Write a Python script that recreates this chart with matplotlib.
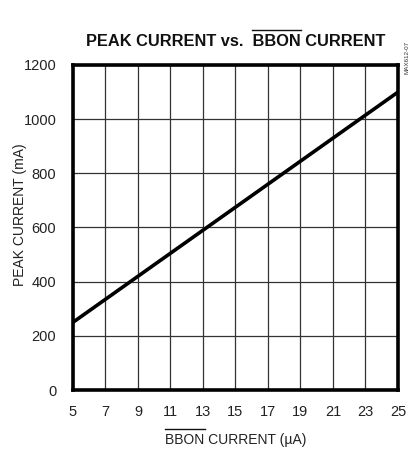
import matplotlib
matplotlib.use("Agg")
import matplotlib.pyplot as plt
from matplotlib.lines import Line2D
import numpy as np

plt.rcParams['font.family'] = ['Liberation Sans', 'DejaVu Sans']

bbon_current = [5, 25]
peak_current = [250, 1100]
x_ticks = [5, 7, 9, 11, 13, 15, 17, 19, 21, 23, 25]
y_ticks = [0, 200, 400, 600, 800, 1000, 1200]

W, H = 414, 450
fig = plt.figure(figsize=(W/100, H/100), dpi=100)
ax = fig.add_axes([73/W, 60/H, 325/W, 325/H])
ax.plot(bbon_current, peak_current, color='black', lw=2.6, solid_capstyle='butt')
ax.set_xlim(5, 25)
ax.set_ylim(0, 1200)
ax.set_xticks(x_ticks)
ax.set_yticks(y_ticks)
ax.grid(True, color='#333333', lw=0.9)
ax.tick_params(length=0, labelsize=10.5, colors='#222222')
ax.tick_params(axis='y', pad=12)
ax.tick_params(axis='x', pad=11)
for s in ax.spines.values():
    s.set_linewidth(2.6)
ax.set_axisbelow(True)

fig.text(20/W, 1 - 215/H, 'PEAK CURRENT (mA)', rotation=90, fontsize=10,
         ha='center', va='center', color='#222222')

def overlined(x, y, prefix, word, suffix, gap, **kw):
    full = prefix + word + suffix
    t = fig.text(x, y, full, ha='center', va='center', **kw)
    fig.canvas.draw()
    r = fig.canvas.get_renderer()
    bb = t.get_window_extent(r)
    def width(s):
        tt = fig.text(0, 0, s, **kw)
        w = tt.get_window_extent(r).width
        tt.remove()
        return w
    x0 = bb.x0 + (width(prefix + 'B') - width('B') if prefix else 0)
    x1 = bb.x0 + width(prefix + word)
    ytop = bb.y1 + gap
    fig.add_artist(Line2D([x0/W, x1/W], [ytop/H, ytop/H], color='#111111', lw=1.0,
                          transform=fig.transFigure))

overlined(235.5/W, 1 - 41/H, 'PEAK CURRENT vs.  ', 'BBON', ' CURRENT', 4,
          fontsize=11.8, fontweight='bold', color='#111111')
overlined(236/W, 1 - 440/H, '', 'BBON', ' CURRENT (µA)', 4,
          fontsize=10, color='#222222')

fig.text(407/W, 1 - 57/H, 'MAX612-07', rotation=90, fontsize=4.5,
         ha='center', va='center', color='#333333')
fig.savefig('out.png', dpi=100)
